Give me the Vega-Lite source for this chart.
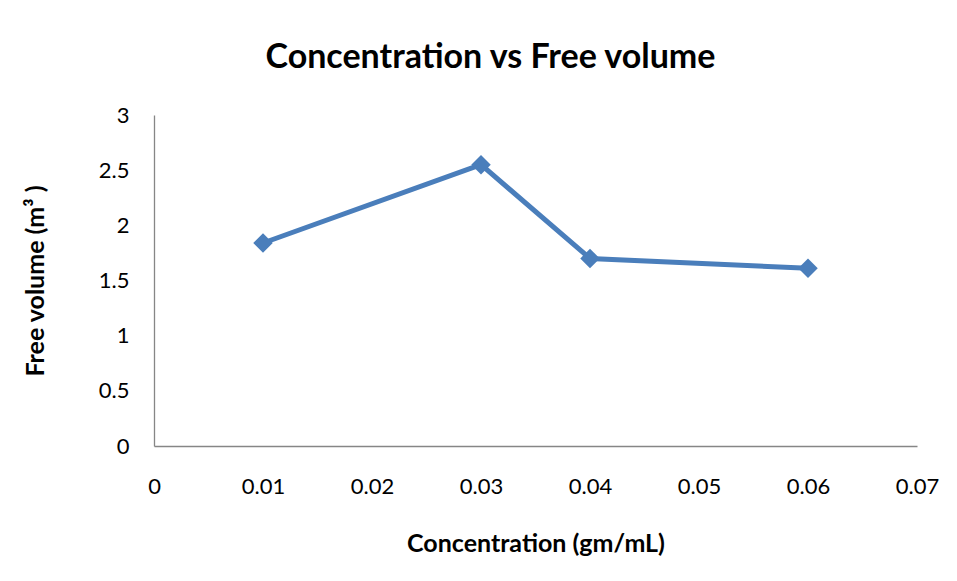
{
  "$schema": "https://vega.github.io/schema/vega-lite/v6.json",
  "width": 763,
  "height": 331,
  "autosize": "none",
  "padding": {"left": 154, "top": 115, "right": 40, "bottom": 135},
  "background": "white",
  "title": {
    "text": "Concentration vs Free volume",
    "font": "Lato",
    "fontSize": 34,
    "fontWeight": "bold",
    "color": "black",
    "anchor": "middle",
    "dx": -45,
    "offset": 29
  },
  "config": {
    "view": {"stroke": null},
    "axis": {
      "domainColor": "#868686",
      "domainWidth": 1.3,
      "ticks": false,
      "grid": false,
      "labelFont": "Lato",
      "labelFontSize": 22,
      "labelColor": "black",
      "titleFont": "Lato",
      "titleFontSize": 25,
      "titleFontWeight": "bold",
      "titleColor": "black"
    }
  },
  "data": {
    "values": [
      {"conc": 0.01, "vol": 1.84},
      {"conc": 0.03, "vol": 2.55},
      {"conc": 0.04, "vol": 1.7},
      {"conc": 0.06, "vol": 1.61}
    ]
  },
  "encoding": {
    "x": {
      "field": "conc",
      "type": "quantitative",
      "scale": {"domain": [0, 0.07], "nice": false, "zero": true},
      "axis": {
        "title": "Concentration (gm/mL)",
        "values": [0, 0.01, 0.02, 0.03, 0.04, 0.05, 0.06, 0.07],
        "labelExpr": "datum.value === 0 ? '0' : format(datum.value, '.2f')",
        "labelPadding": 30,
        "titlePadding": 34,
        "labelFlush": false,
        "labelOverlap": false
      }
    },
    "y": {
      "field": "vol",
      "type": "quantitative",
      "scale": {"domain": [0, 3], "nice": false},
      "axis": {
        "title": "Free volume (m³ )",
        "values": [0, 0.5, 1, 1.5, 2, 2.5, 3],
        "format": "~g",
        "labelPadding": 25,
        "titlePadding": 50,
        "labelFlush": false,
        "labelOverlap": false
      }
    }
  },
  "layer": [
    {
      "mark": {"type": "line", "color": "#4A7EBB", "strokeWidth": 5}
    },
    {
      "mark": {"type": "point", "shape": "diamond", "filled": true, "color": "#4A7EBB", "size": 380, "opacity": 1}
    }
  ]
}
